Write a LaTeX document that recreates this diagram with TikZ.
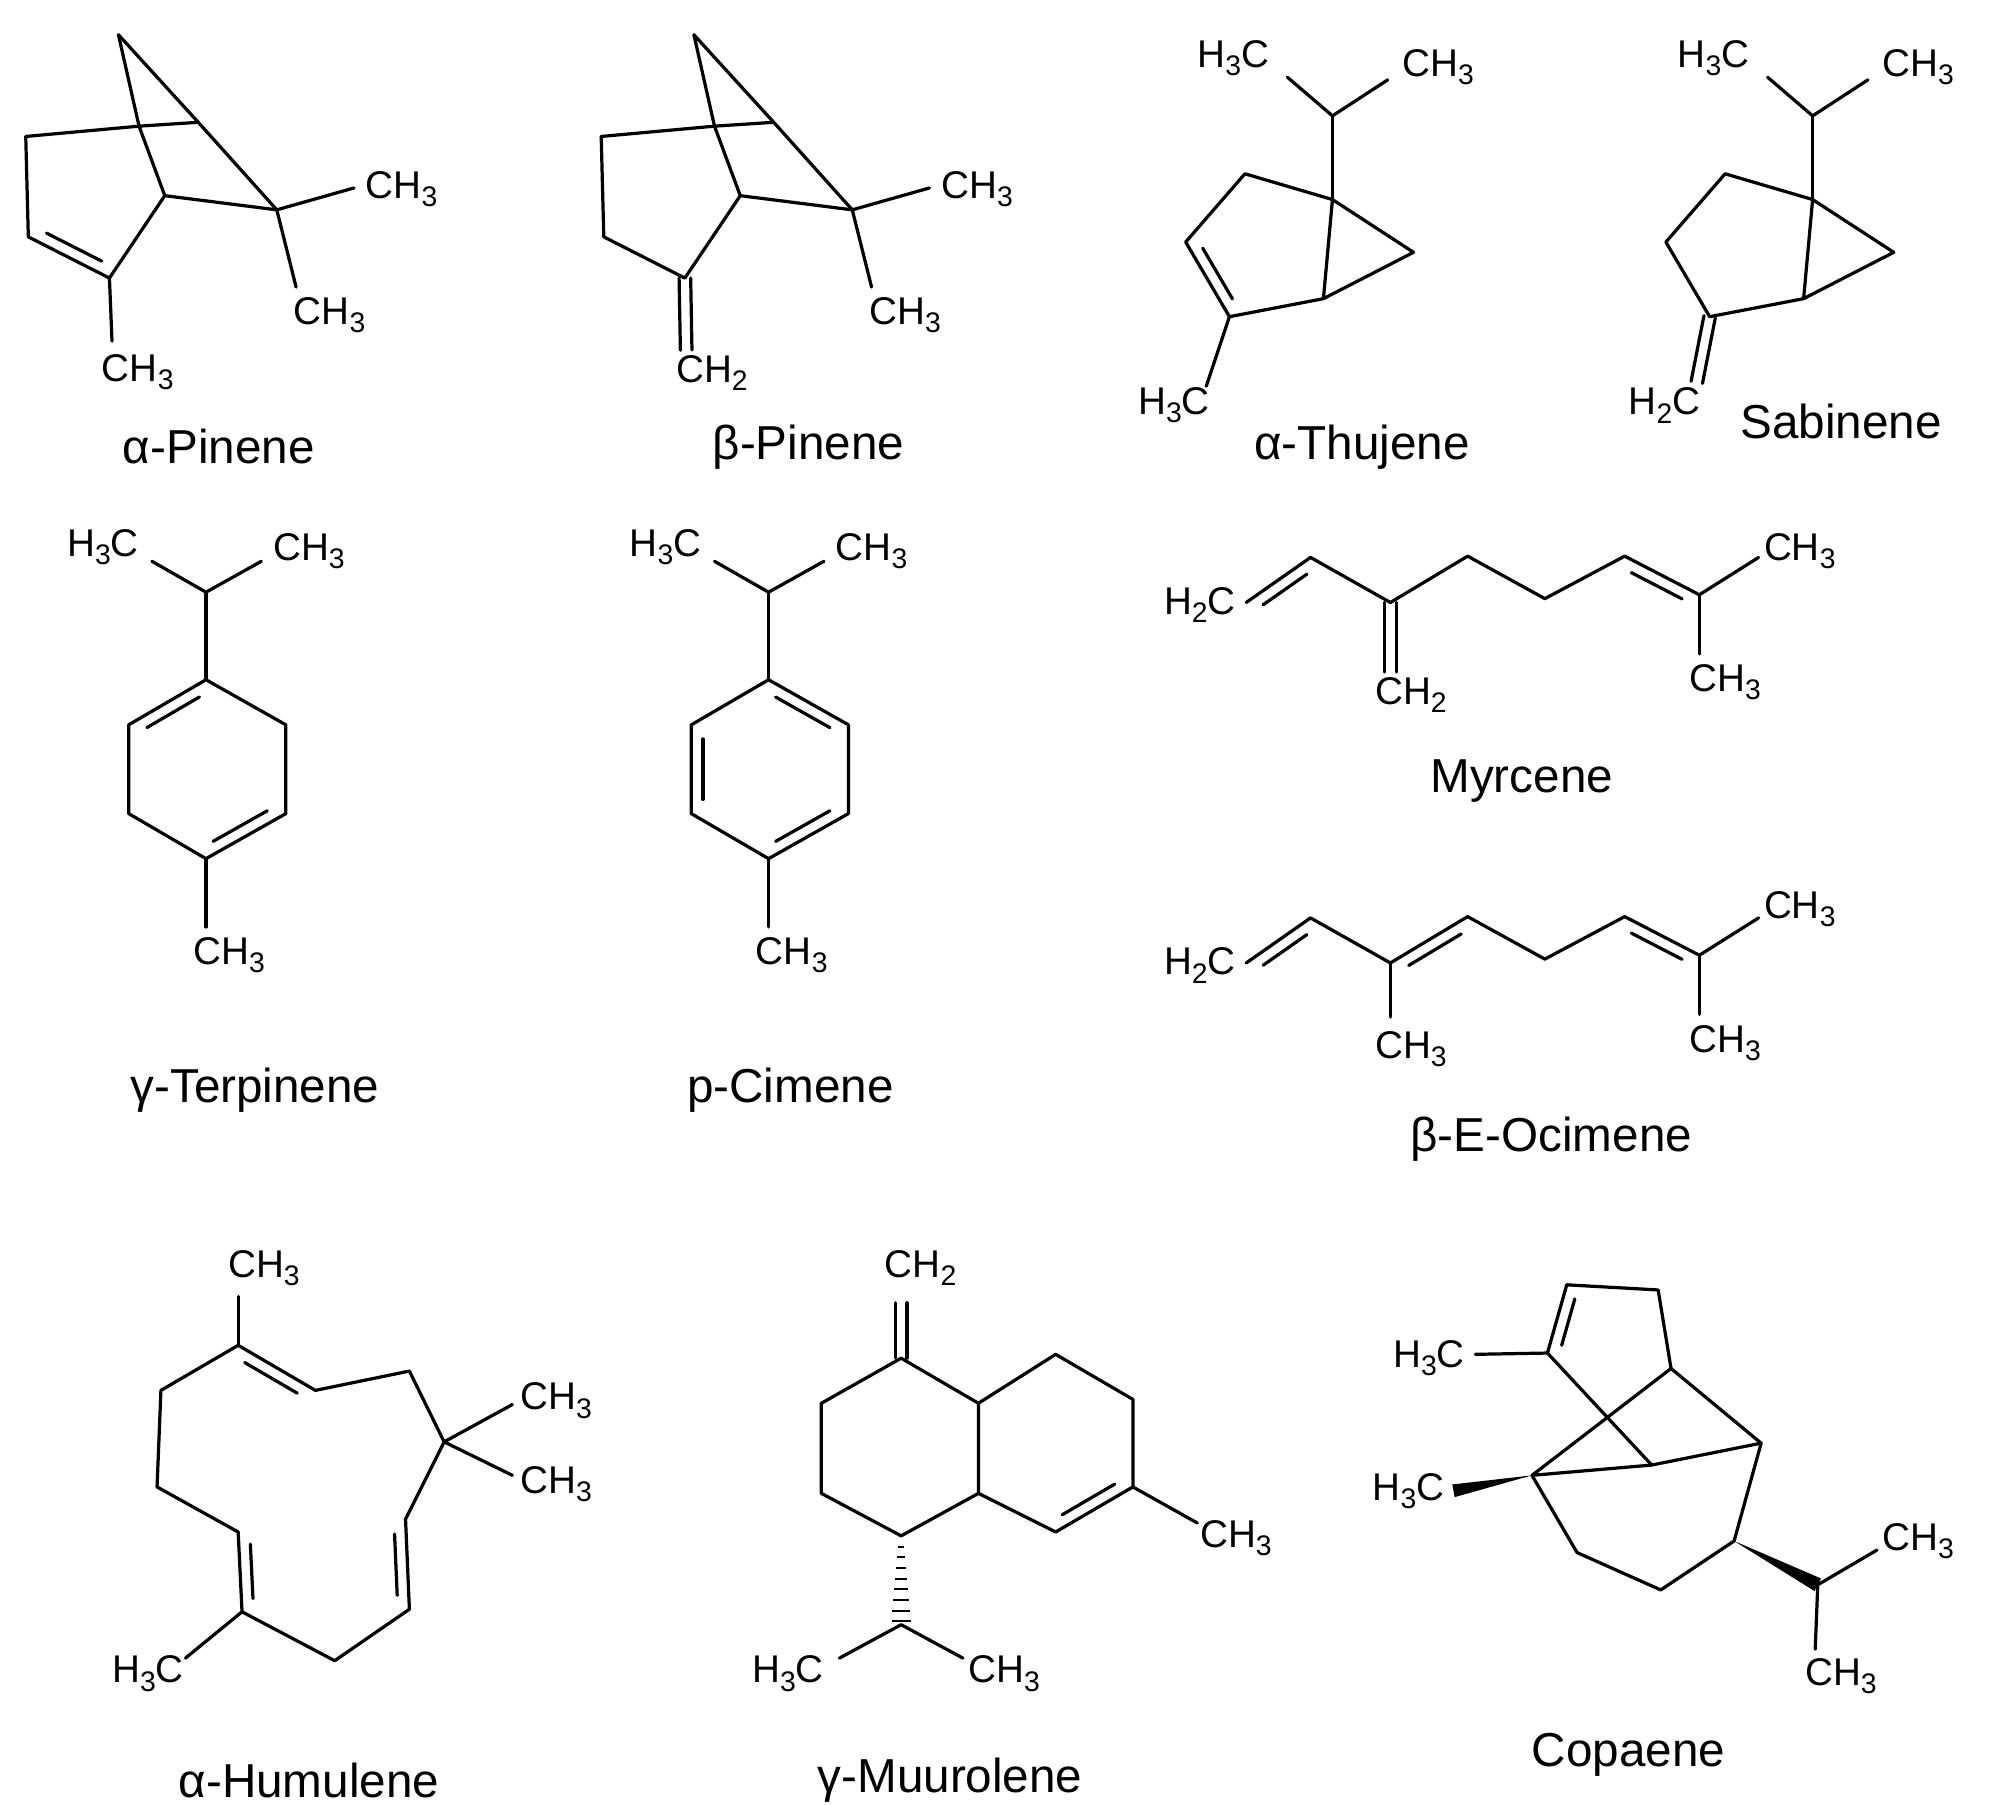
\documentclass[tikz,border=0pt]{standalone}
\usepackage{fontspec}
\setmainfont{Liberation Sans}
\usetikzlibrary{calc}
\newcommand\lo[1]{\raisebox{-0.4ex}{\fontsize{22}{22}\selectfont #1}}
\newcommand\inb[4]{\draw[bond] ($(#1)!.16!(#2)!9pt!#3:(#2)$) -- ($(#2)!.16!(#1)!9pt!#4:(#1)$);}
\newcommand\dbx[2]{\draw[bond] ($(#1)!4.5pt!90:(#2)$) -- ($(#2)!4.5pt!-90:(#1)$); \draw[bond] ($(#1)!4.5pt!-90:(#2)$) -- ($(#2)!4.5pt!90:(#1)$);}
\tikzset{bond/.style={line width=2.5pt,line cap=round,line join=round},
 atom/.style={font=\fontsize{30}{30}\selectfont,inner sep=0pt},
 mname/.style={font=\fontsize{37}{37}\selectfont,inner sep=0pt}}
\begin{document}
\begin{tikzpicture}[x=1pt,y=-1pt]
\fill[white] (0,0) rectangle (1545,1402);
\useasboundingbox (0,0) rectangle (1545,1402);
% alpha-pinene and beta-pinene
\foreach \sh/\kind in {0/a,447/b}{
\begin{scope}[xshift=\sh pt]
\coordinate (a1) at (92,27); \coordinate (a2) at (20,106); \coordinate (a3) at (108,98);
\coordinate (a4) at (154,95); \coordinate (a5) at (128,152); \coordinate (a6) at (215,163);
\coordinate (a7) at (22,184); \coordinate (a8) at (85,216);
\coordinate (e1) at (275,146); \coordinate (e2) at (230,223);
\draw[bond] (a1)--(a3)--(a5); \draw[bond] (a1)--(a4)--(a6);
\draw[bond] (a2)--(a3)--(a4); \draw[bond] (a2)--(a7)--(a8)--(a5)--(a6);
\draw[bond] (a6)--(e1); \draw[bond] (a6)--(e2);
\node[atom] (l1) at (312,147) {CH\lo{3}};
\node[atom] (l2) at (256,245) {CH\lo{3}};
\end{scope}}
\begin{scope}
\coordinate (p7) at (22,184); \coordinate (p8) at (85,216); \coordinate (p9) at (87,265);
\inb{p7}{p8}{90}{-90}
\draw[bond] (p8)--(p9);
\node[atom] (pl) at (107,289) {CH\lo{3}};
\node[mname] (n1) at (170,347) {α-Pinene};
\end{scope}
\begin{scope}[xshift=447pt]
\coordinate (q8) at (85,216); \coordinate (q9) at (86,272);
\dbx{q8}{q9}
\node[atom] (ql) at (106,290) {CH\lo{2}};
\end{scope}
\node[mname] (n2) at (628,347) {β-Pinene};
% thujene / sabinene
\foreach \sh in {0,373}{
\begin{scope}[xshift=\sh pt]
\coordinate (t1) at (1035,90); \coordinate (t2) at (1000,60); \coordinate (t3) at (1078,62);
\coordinate (t4) at (1035,155); \coordinate (t5) at (967,135); \coordinate (t6) at (921,188);
\coordinate (t7) at (955,246); \coordinate (t8) at (1028,232); \coordinate (t9) at (1098,196);
\draw[bond] (t2)--(t1)--(t3); \draw[bond] (t1)--(t4);
\draw[bond] (t4)--(t5)--(t6)--(t7)--(t8)--(t4)--(t9)--(t8);
\node[atom] (tl1) at (958,45) {H\lo{3}C};
\node[atom] (tl2) at (1117,52) {CH\lo{3}};
\end{scope}}
\coordinate (u6) at (921,188); \coordinate (u7) at (955,246); \coordinate (u9) at (937,300);
\inb{u6}{u7}{90}{-90}
\draw[bond] (u7)--(u9);
\node[atom] (ul) at (912,315) {H\lo{3}C};
\node[mname] (n3) at (1058,347) {α-Thujene};
\coordinate (s7) at (1328,246); \coordinate (s9) at (1318,297);
\dbx{s7}{s9}
\node[atom] (sl) at (1293,315) {H\lo{2}C};
\node[mname] (n4) at (1430,327) {Sabinene};
% terpinene / cimene
\foreach \sh in {0,437}{
\begin{scope}[xshift=\sh pt]
\coordinate (g0) at (160,460); \coordinate (g1) at (118,436); \coordinate (g2) at (203,436);
\coordinate (r1) at (160,528); \coordinate (r2) at (222,563); \coordinate (r3) at (222,632);
\coordinate (r4) at (160,667); \coordinate (r5) at (100,632); \coordinate (r6) at (100,563);
\coordinate (g9) at (160,720);
\draw[bond] (g1)--(g0)--(g2); \draw[bond] (g0)--(r1);
\draw[bond] (r1)--(r2)--(r3)--(r4)--(r5)--(r6)--cycle;
\draw[bond] (r4)--(g9);
\inb{r4}{r3}{90}{-90}
\node[atom] (gl1) at (80,425) {H\lo{3}C};
\node[atom] (gl2) at (240,428) {CH\lo{3}};
\node[atom] (gl3) at (178,742) {CH\lo{3}};
\end{scope}}
\coordinate (k1) at (160,528); \coordinate (k6) at (100,563);
\inb{k6}{k1}{-90}{90}
\begin{scope}[xshift=437pt]
\coordinate (c1) at (160,528); \coordinate (c2) at (222,563);
\coordinate (c5) at (100,632); \coordinate (c6) at (100,563);
\inb{c1}{c2}{-90}{90}
\inb{c5}{c6}{-90}{90}
\end{scope}
\node[mname] (n5) at (198,847) {γ-Terpinene};
\node[mname] (n6) at (614,847) {p-Cimene};
% myrcene
\coordinate (m0) at (968,468); \coordinate (m1) at (1018,433); \coordinate (m2) at (1080,468);
\coordinate (m3) at (1080,522); \coordinate (m4) at (1140,432); \coordinate (m5) at (1200,465);
\coordinate (m6) at (1262,432); \coordinate (m7) at (1320,462); \coordinate (m8) at (1366,433);
\coordinate (m9) at (1320,508);
\draw[bond] (m0)--(m1)--(m2)--(m4)--(m5)--(m6)--(m7)--(m8); \draw[bond] (m7)--(m9);
\inb{m0}{m1}{-90}{90} \inb{m6}{m7}{-90}{90} \dbx{m2}{m3}
\node[atom] (ml1) at (932,470) {H\lo{2}C};
\node[atom] (ml2) at (1096,540) {CH\lo{2}};
\node[atom] (ml3) at (1398,428) {CH\lo{3}};
\node[atom] (ml4) at (1340,530) {CH\lo{3}};
\node[mname] (n7) at (1182,607) {Myrcene};
% ocimene
\coordinate (o0) at (968,748); \coordinate (o1) at (1018,713); \coordinate (o2) at (1080,748);
\coordinate (o3) at (1080,790); \coordinate (o4) at (1140,712); \coordinate (o5) at (1200,745);
\coordinate (o6) at (1262,712); \coordinate (o7) at (1320,742); \coordinate (o8) at (1366,713);
\coordinate (o9) at (1320,788);
\draw[bond] (o0)--(o1)--(o2)--(o4)--(o5)--(o6)--(o7)--(o8); \draw[bond] (o7)--(o9); \draw[bond] (o2)--(o3);
\inb{o0}{o1}{-90}{90} \inb{o2}{o4}{-90}{90} \inb{o6}{o7}{-90}{90}
\node[atom] (ol1) at (932,750) {H\lo{2}C};
\node[atom] (ol2) at (1096,815) {CH\lo{3}};
\node[atom] (ol3) at (1398,706) {CH\lo{3}};
\node[atom] (ol4) at (1340,810) {CH\lo{3}};
\node[mname] (n8) at (1205,885) {β-E-Ocimene};
% humulene
\coordinate (h1) at (185,1045); \coordinate (h2) at (245,1080); \coordinate (h3) at (318,1065);
\coordinate (h4) at (345,1120); \coordinate (h5) at (315,1180); \coordinate (h6) at (318,1250);
\coordinate (h7) at (260,1290); \coordinate (h8) at (188,1252); \coordinate (h9) at (185,1190);
\coordinate (h10) at (122,1155); \coordinate (h11) at (125,1080);
\coordinate (hm1) at (185,1007); \coordinate (hm2) at (398,1091); \coordinate (hm3) at (398,1146);
\coordinate (hm4) at (144,1288);
\draw[bond] (h1)--(h2)--(h3)--(h4)--(h5)--(h6)--(h7)--(h8)--(h9)--(h10)--(h11)--cycle;
\draw[bond] (h1)--(hm1); \draw[bond] (h4)--(hm2); \draw[bond] (h4)--(hm3); \draw[bond] (h8)--(hm4);
\inb{h1}{h2}{-90}{90} \inb{h5}{h6}{-90}{90} \inb{h9}{h8}{90}{-90}
\node[atom] (hl1) at (205,985) {CH\lo{3}};
\node[atom] (hl2) at (432,1088) {CH\lo{3}};
\node[atom] (hl3) at (432,1153) {CH\lo{3}};
\node[atom] (hl4) at (115,1300) {H\lo{3}C};
\node[mname] (n9) at (240,1383) {α-Humulene};
% muurolene
\coordinate (M1) at (700,1055); \coordinate (M2) at (760,1090); \coordinate (M3) at (760,1160);
\coordinate (M4) at (700,1193); \coordinate (M5) at (638,1160); \coordinate (M6) at (638,1090);
\coordinate (N1) at (820,1052); \coordinate (N2) at (880,1087); \coordinate (N3) at (880,1155);
\coordinate (N4) at (820,1190); \coordinate (Mx) at (700,1012); \coordinate (Nm) at (930,1183);
\coordinate (Mh) at (700,1262); \coordinate (Ma) at (652,1288); \coordinate (Mb) at (748,1288);
\draw[bond] (M1)--(M2)--(M3)--(M4)--(M5)--(M6)--cycle;
\draw[bond] (M2)--(N1)--(N2)--(N3)--(N4)--(M3);
\draw[bond] (N3)--(Nm); \dbx{M1}{Mx}
\inb{N3}{N4}{-90}{90}
\foreach \i in {1,...,8}{\pgfmathsetmacro\yy{1193+\i*8.3}\pgfmathsetmacro\ww{1.5+\i*0.75}
 \draw[line width=1.6pt] (700-\ww,\yy) -- (700+\ww,\yy);}
\draw[bond] (Ma)--(Mh)--(Mb);
\node[atom] (Ml1) at (715,985) {CH\lo{2}};
\node[atom] (Ml2) at (960,1195) {CH\lo{3}};
\node[atom] (Ml3) at (612,1300) {H\lo{3}C};
\node[atom] (Ml4) at (780,1300) {CH\lo{3}};
\node[mname] (n10) at (738,1383) {γ-Muurolene};
% copaene
\coordinate (P1) at (1217,998); \coordinate (P2) at (1288,1002); \coordinate (P3) at (1202,1051);
\coordinate (P4) at (1298,1063); \coordinate (P6) at (1283,1138); \coordinate (P7) at (1190,1146);
\coordinate (P8) at (1368,1121); \coordinate (P9) at (1225,1206); \coordinate (P10) at (1290,1235);
\coordinate (P11) at (1347,1197); \coordinate (P12) at (1412,1231);
\coordinate (Pm) at (1146,1052); \coordinate (Pw) at (1129,1158);
\coordinate (Pa) at (1458,1204); \coordinate (Pb) at (1410,1281);
\draw[bond] (P3)--(P1)--(P2)--(P4);
\draw[bond] (P3)--(P6)--(P8); \draw[bond] (P4)--(P7)--(P6);
\draw[bond] (P4)--(P8)--(P11)--(P10)--(P9)--(P7);
\draw[bond] (P3)--(Pm); \draw[bond] (Pa)--(P12)--(Pb);
\inb{P1}{P3}{90}{-90}
\fill (P7) -- ($(Pw)!5pt!90:(P7)$) -- ($(Pw)!5pt!-90:(P7)$) -- cycle;
\fill (P11) -- ($(P12)!5.5pt!90:(P11)$) -- ($(P12)!5.5pt!-90:(P11)$) -- cycle;
\node[atom] (Pl1) at (1110,1055) {H\lo{3}C};
\node[atom] (Pl2) at (1094,1158) {H\lo{3}C};
\node[atom] (Pl3) at (1490,1197) {CH\lo{3}};
\node[atom] (Pl4) at (1430,1302) {CH\lo{3}};
\node[mname] (n11) at (1265,1363) {Copaene};
\end{tikzpicture}
\end{document}
